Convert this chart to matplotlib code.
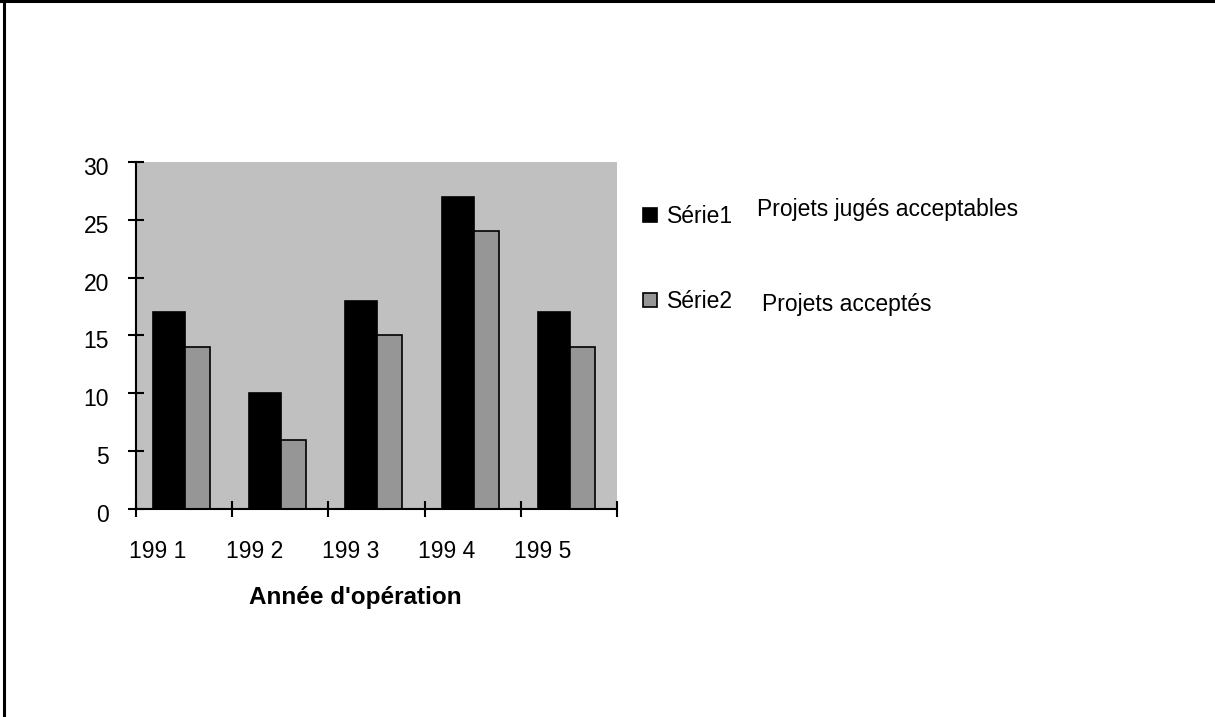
import matplotlib
matplotlib.use("Agg")
import matplotlib.pyplot as plt
import matplotlib.transforms as mtransforms
import numpy as np
from matplotlib.lines import Line2D

plt.rcParams["font.family"] = ["Liberation Sans", "DejaVu Sans"]

# data
years = ["199 1", "199 2", "199 3", "199 4", "199 5"]
serie1 = [17, 10, 18, 27, 17]   # projets jugés acceptables
serie2 = [14, 6, 15, 24, 14]    # projets acceptés
series_names = ["Série1", "Série2"]
series_desc = ["Projets jugés acceptables", "Projets acceptés"]

fig = plt.figure(figsize=(12.15, 7.17), dpi=100)
ax = fig.add_axes([0.1119, 0.2901, 0.3959, 0.4840])
ax.set_facecolor("#c0c0c0")

x = np.arange(len(years))
b1 = ax.bar(x + 0.177, serie1, width=0.333, align="edge",
            color="black", edgecolor="black", linewidth=1.2, zorder=3)
b2 = ax.bar(x + 0.51, serie2, width=0.26, align="edge",
            color="#969696", edgecolor="black", linewidth=1.2, zorder=3)

ax.set_xlim(0, len(years))
ax.set_ylim(0, 30)
ax.set_yticks(range(0, 31, 5))
ax.set_xticks(range(len(years) + 1))
ax.set_xticklabels([])
ax.set_xticks(x + 0.23, years, minor=True)

ax.tick_params(axis="both", which="major", direction="inout", length=12,
               width=1.5, color="black", labelsize=16.5)
ax.tick_params(axis="y", pad=13.5)
ax.tick_params(axis="x", which="minor", length=0, pad=22, labelsize=16.5)

# y labels sit a little below their ticks in the original
shift = mtransforms.ScaledTranslation(0, -4 / 100, fig.dpi_scale_trans)
for lab in ax.get_yticklabels():
    lab.set_transform(lab.get_transform() + shift)

for s in ["top", "right"]:
    ax.spines[s].set_visible(False)
for s in ["left", "bottom"]:
    ax.spines[s].set_linewidth(1.5)
    ax.spines[s].set_zorder(4)

ax.set_xlabel("Année d'opération", fontsize=17.5, fontweight="bold")
ax.xaxis.set_label_coords(0.455, -0.222)

# legend
ax.legend([b1, b2], series_names, loc="upper left",
          bbox_to_anchor=(643 / 1215, 1 - 205 / 717),
          bbox_transform=fig.transFigure, frameon=False, fontsize=16.5,
          handlelength=0.6, handleheight=0.6, handletextpad=0.45,
          labelspacing=2.7, borderpad=0, borderaxespad=0)

fig.text(757 / 1215, 1 - 216 / 717, series_desc[0], fontsize=16.5, va="baseline")
fig.text(762 / 1215, 1 - 311 / 717, series_desc[1], fontsize=16.5, va="baseline")

# page border (top and left only)
fig.add_artist(Line2D([0, 1], [0.998, 0.998], transform=fig.transFigure,
                      color="black", linewidth=2.2))
fig.add_artist(Line2D([0.0033, 0.0033], [0, 1], transform=fig.transFigure,
                      color="black", linewidth=2.2))

fig.savefig("out.png", dpi=100)
